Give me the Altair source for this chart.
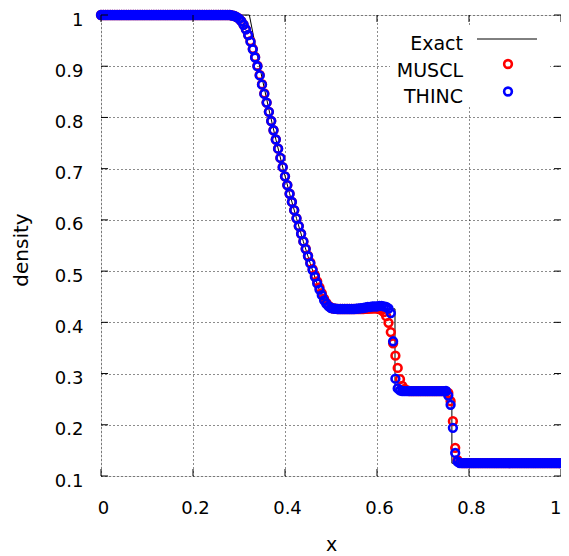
import altair as alt
import pandas as pd

# grid nodes x = j/200, j = 0..200
x_nodes = [round(j * 0.005, 3) for j in range(201)]

muscl = [
    1.0, 1.0, 1.0, 1.0, 1.0, 1.0, 1.0, 1.0, 1.0, 1.0,
    1.0, 1.0, 1.0, 1.0, 1.0, 1.0, 1.0, 1.0, 1.0, 1.0,
    1.0, 1.0, 1.0, 1.0, 1.0, 1.0, 1.0, 1.0, 1.0, 1.0,
    1.0, 1.0, 1.0, 1.0, 1.0, 1.0, 1.0, 1.0, 1.0, 1.0,
    1.0, 1.0, 1.0, 1.0, 1.0, 1.0, 1.0, 1.0, 1.0, 1.0,
    1.0, 1.0, 1.0, 1.0, 1.0, 1.0, 1.0, 0.999, 0.998, 0.996,
    0.993, 0.988, 0.981, 0.972, 0.961, 0.949, 0.934, 0.918, 0.901, 0.883,
    0.865, 0.847, 0.829, 0.811, 0.793, 0.775, 0.757, 0.739, 0.721, 0.703,
    0.685, 0.668, 0.651, 0.635, 0.619, 0.603, 0.588, 0.573, 0.558, 0.544,
    0.530, 0.517, 0.504, 0.492, 0.480, 0.468, 0.457, 0.446, 0.438, 0.432,
    0.429, 0.427, 0.4265, 0.426, 0.426, 0.426, 0.426, 0.426, 0.426, 0.426,
    0.426, 0.426, 0.426, 0.426, 0.426, 0.4262, 0.4265, 0.427, 0.427, 0.4272,
    0.427, 0.426, 0.424, 0.420, 0.412, 0.399, 0.381, 0.359, 0.335, 0.311,
    0.289, 0.276, 0.270, 0.267, 0.266, 0.2656, 0.2656, 0.2656, 0.2656, 0.2656,
    0.2656, 0.2656, 0.2656, 0.2656, 0.2656, 0.2656, 0.2656, 0.2656, 0.2656, 0.2656,
    0.265, 0.262, 0.246, 0.207, 0.155, 0.131, 0.126, 0.125, 0.125, 0.125,
    0.125, 0.125, 0.125, 0.125, 0.125, 0.125, 0.125, 0.125, 0.125, 0.125,
    0.125, 0.125, 0.125, 0.125, 0.125, 0.125, 0.125, 0.125, 0.125, 0.125,
    0.125, 0.125, 0.125, 0.125, 0.125, 0.125, 0.125, 0.125, 0.125, 0.125,
    0.125, 0.125, 0.125, 0.125, 0.125, 0.125, 0.125, 0.125, 0.125, 0.125,
    0.125,
]

thinc = [
    1.0, 1.0, 1.0, 1.0, 1.0, 1.0, 1.0, 1.0, 1.0, 1.0,
    1.0, 1.0, 1.0, 1.0, 1.0, 1.0, 1.0, 1.0, 1.0, 1.0,
    1.0, 1.0, 1.0, 1.0, 1.0, 1.0, 1.0, 1.0, 1.0, 1.0,
    1.0, 1.0, 1.0, 1.0, 1.0, 1.0, 1.0, 1.0, 1.0, 1.0,
    1.0, 1.0, 1.0, 1.0, 1.0, 1.0, 1.0, 1.0, 1.0, 1.0,
    1.0, 1.0, 1.0, 1.0, 1.0, 1.0, 1.0, 0.999, 0.998, 0.996,
    0.993, 0.988, 0.981, 0.972, 0.961, 0.948, 0.933, 0.917, 0.900, 0.882,
    0.864, 0.846, 0.829, 0.811, 0.793, 0.775, 0.757, 0.739, 0.721, 0.703,
    0.685, 0.668, 0.651, 0.635, 0.619, 0.603, 0.588, 0.573, 0.558, 0.543,
    0.529, 0.515, 0.502, 0.489, 0.476, 0.464, 0.453, 0.443, 0.436, 0.431,
    0.428, 0.427, 0.4265, 0.426, 0.426, 0.426, 0.426, 0.426, 0.426, 0.426,
    0.426, 0.4265, 0.427, 0.4275, 0.428, 0.429, 0.430, 0.430, 0.431, 0.431,
    0.431, 0.432, 0.432, 0.431, 0.430, 0.427, 0.418, 0.363, 0.290, 0.271,
    0.267, 0.266, 0.2656, 0.2656, 0.2656, 0.2656, 0.2656, 0.2656, 0.2656, 0.2656,
    0.2656, 0.2656, 0.2656, 0.2656, 0.2656, 0.2656, 0.2656, 0.2656, 0.2656, 0.2656,
    0.266, 0.257, 0.239, 0.194, 0.145, 0.128, 0.125, 0.125, 0.125, 0.125,
    0.125, 0.125, 0.125, 0.125, 0.125, 0.125, 0.125, 0.125, 0.125, 0.125,
    0.125, 0.125, 0.125, 0.125, 0.125, 0.125, 0.125, 0.125, 0.125, 0.125,
    0.125, 0.125, 0.125, 0.125, 0.125, 0.125, 0.125, 0.125, 0.125, 0.125,
    0.125, 0.125, 0.125, 0.125, 0.125, 0.125, 0.125, 0.125, 0.125, 0.125,
    0.125,
]

# exact solution vertices
x_exact = [0.0, 0.3225, 0.335, 0.35, 0.365, 0.38, 0.395, 0.41, 0.425, 0.44,
           0.455, 0.47, 0.4895, 0.6391, 0.6391, 0.7628, 0.7628, 1.0]
rho_exact = [1.0, 1.0, 0.9428, 0.8775, 0.8158, 0.7577, 0.7030, 0.6514, 0.6029, 0.5574,
             0.5147, 0.4746, 0.4263, 0.4263, 0.2656, 0.2656, 0.125, 0.125]

x_ticks = [0, 0.2, 0.4, 0.6, 0.8, 1.0]
y_ticks = [0.1, 0.2, 0.3, 0.4, 0.5, 0.6, 0.7, 0.8, 0.9, 1.0]
legend_labels = ["Exact", "MUSCL", "THINC"]

W, H = 460, 461
FONT = "DejaVu Sans"

df_m = pd.DataFrame({"x": x_nodes, "rho": muscl})
df_t = pd.DataFrame({"x": x_nodes, "rho": thinc})
df_e = pd.DataFrame({"x": x_exact, "rho": rho_exact, "i": list(range(len(x_exact)))})
df_xt = pd.DataFrame({"v": x_ticks})
df_yt = pd.DataFrame({"v": y_ticks})

xs = alt.Scale(domain=[0, 1], nice=False, zero=False)
ys = alt.Scale(domain=[0.1, 1], nice=False, zero=False)

xaxis = alt.Axis(values=x_ticks, format="~g", title="x", grid=True, ticks=False, domain=False,
                 gridDash=[1, 3], gridColor="#000000", gridOpacity=0.9,
                 labelFont=FONT, labelFontSize=18, labelColor="#000000",
                 labelPadding=23,
                 labelAlign={"condition": {"test": "datum.value == 1", "value": "right"}, "value": "center"},
                 labelOffset={"condition": {"test": "datum.value == 1", "value": 0}, "value": 2},
                 titleFont=FONT, titleFontSize=19, titleFontWeight="normal", titleColor="#000000",
                 titleX=W / 2, titleY=68, titleBaseline="middle", titleAlign="center")
yaxis = alt.Axis(values=y_ticks, format="~g", title="density", grid=True, ticks=False, domain=False,
                 gridDash=[1, 3], gridColor="#000000", gridOpacity=0.9,
                 labelFont=FONT, labelFontSize=18, labelColor="#000000",
                 labelPadding=18, labelOffset=5,
                 titleFont=FONT, titleFontSize=20, titleFontWeight="normal", titleColor="#000000",
                 titleX=-80, titleY=H / 2 + 4, titleBaseline="middle", titleAlign="center", titleAngle=270)

exact = alt.Chart(df_e).mark_line(color="#000000", strokeWidth=1).encode(
    x=alt.X("x:Q", scale=xs, axis=xaxis),
    y=alt.Y("rho:Q", scale=ys, axis=yaxis),
    order="i:Q",
)

pt = dict(shape="circle", filled=False, size=60, strokeWidth=2.6, opacity=1)
m_pts = alt.Chart(df_m).mark_point(color="#ff0000", **pt).encode(
    x=alt.X("x:Q", scale=xs), y=alt.Y("rho:Q", scale=ys))
t_pts = alt.Chart(df_t).mark_point(color="#0000ff", **pt).encode(
    x=alt.X("x:Q", scale=xs), y=alt.Y("rho:Q", scale=ys))

tick_len = 7
yt_left = alt.Chart(df_yt).mark_rule(color="#000000", strokeWidth=1).encode(
    y=alt.Y("v:Q", scale=ys), x=alt.value(0), x2=alt.value(tick_len))
yt_right = alt.Chart(df_yt).mark_rule(color="#000000", strokeWidth=1).encode(
    y=alt.Y("v:Q", scale=ys), x=alt.value(W - tick_len), x2=alt.value(W))
xt_bot = alt.Chart(df_xt).mark_rule(color="#000000", strokeWidth=1).encode(
    x=alt.X("v:Q", scale=xs), y=alt.value(H), y2=alt.value(H - tick_len))
xt_top = alt.Chart(df_xt).mark_rule(color="#000000", strokeWidth=1).encode(
    x=alt.X("v:Q", scale=xs), y=alt.value(0), y2=alt.value(tick_len))

# key (gnuplot style: opaque box, text right-aligned, sample to the right)
key_box = alt.Chart(pd.DataFrame({"k": [0]})).mark_rect(color="#ffffff").encode(
    x=alt.value(289), x2=alt.value(449), y=alt.value(10), y2=alt.value(90))

def key_text(label, yb):
    return alt.Chart(pd.DataFrame({"t": [label]})).mark_text(
        align="right", baseline="alphabetic", font=FONT, fontSize=19, color="#000000"
    ).encode(text="t:N", x=alt.value(362), y=alt.value(yb))

key_line = alt.Chart(pd.DataFrame({"k": [0]})).mark_rule(color="#000000", strokeWidth=1).encode(
    x=alt.value(376), x2=alt.value(436), y=alt.value(24))
key_m = alt.Chart(pd.DataFrame({"k": [0]})).mark_point(color="#ff0000", **pt).encode(
    x=alt.value(407), y=alt.value(49))
key_t = alt.Chart(pd.DataFrame({"k": [0]})).mark_point(color="#0000ff", **pt).encode(
    x=alt.value(407), y=alt.value(76.5))

chart = alt.layer(
    exact, m_pts, t_pts, yt_left, yt_right, xt_bot, xt_top,
    key_box, key_text(legend_labels[0], 35), key_text(legend_labels[1], 61.5),
    key_text(legend_labels[2], 88), key_line, key_m, key_t,
).properties(
    width=W, height=H,
    autosize=alt.AutoSizeParams(type="none"),
    padding={"left": 93, "top": 7, "right": 0, "bottom": 78},
).configure_view(stroke="#000000", strokeWidth=1).configure(background="#ffffff")

chart.save("out.html", embed_options={"renderer": "svg", "actions": False})
